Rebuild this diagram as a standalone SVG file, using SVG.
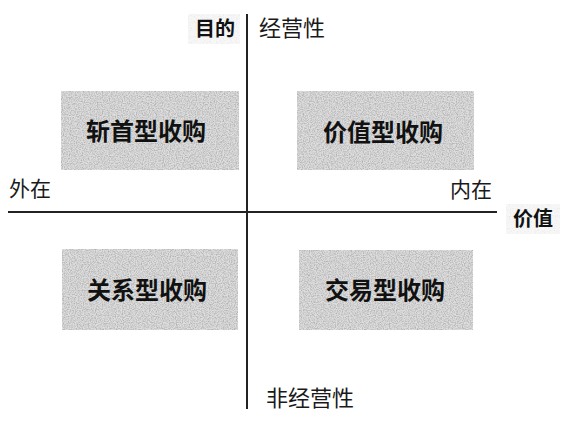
<svg xmlns="http://www.w3.org/2000/svg" width="574" height="425" viewBox="0 0 574 425">
  <style>
    .lbl { font-family: "Noto Sans CJK SC", "Noto Sans", sans-serif; fill: #1a1a1a; }
    .b { font-weight: bold; fill: #111111; }
    .box { fill: #dedede; }
    .faint { fill: #f7f7f7; }
    .axis { stroke: #222; stroke-width: 2; fill: none; }
  </style>
  <defs>
    <filter id="grain" x="0" y="0" width="100%" height="100%">
      <feTurbulence type="fractalNoise" baseFrequency="0.85" numOctaves="2" seed="7" result="n"/>
      <feColorMatrix in="n" type="matrix" values="0 0 0 0 0.45  0 0 0 0 0.45  0 0 0 0 0.45  0 0 0 -2.2 1.45" result="d"/>
      <feComposite in="d" in2="SourceGraphic" operator="in" result="dm"/>
      <feMerge><feMergeNode in="SourceGraphic"/><feMergeNode in="dm"/></feMerge>
    </filter>
    <filter id="grainLight" x="0" y="0" width="100%" height="100%">
      <feTurbulence type="fractalNoise" baseFrequency="0.85" numOctaves="2" seed="3" result="n"/>
      <feColorMatrix in="n" type="matrix" values="0 0 0 0 0.75  0 0 0 0 0.75  0 0 0 0 0.75  0 0 0 -2.0 1.0" result="d"/>
      <feComposite in="d" in2="SourceGraphic" operator="in" result="dm"/>
      <feMerge><feMergeNode in="SourceGraphic"/><feMergeNode in="dm"/></feMerge>
    </filter>
  </defs>
  <rect width="574" height="425" fill="#ffffff"/>

  <g id="connectors">
    <line class="axis" x1="247" y1="14" x2="247" y2="409"/>
    <line class="axis" x1="8" y1="212" x2="497" y2="212"/>
  </g>

  <g id="axis-top-left">
    <rect class="faint" x="188" y="14" width="52" height="30" filter="url(#grainLight)"/>
    <text class="lbl b" x="215" y="36" font-size="20" text-anchor="middle">目的</text>
  </g>
  <g id="axis-top">
    <text class="lbl" x="292" y="36" font-size="22" text-anchor="middle">经营性</text>
  </g>
  <g id="axis-left">
    <text class="lbl" x="30" y="196" font-size="21" text-anchor="middle">外在</text>
  </g>
  <g id="axis-right">
    <text class="lbl" x="471" y="197" font-size="21" text-anchor="middle">内在</text>
  </g>
  <g id="axis-right-bottom">
    <rect class="faint" x="506" y="204" width="54" height="30" filter="url(#grainLight)"/>
    <text class="lbl b" x="533" y="226" font-size="20" text-anchor="middle">价值</text>
  </g>
  <g id="axis-bottom">
    <text class="lbl" x="310" y="406" font-size="22" text-anchor="middle">非经营性</text>
  </g>

  <g id="q-top-left">
    <rect class="box" x="61" y="91" width="178" height="79" filter="url(#grain)"/>
    <text class="lbl b" x="146" y="140" font-size="24" text-anchor="middle">斩首型收购</text>
  </g>
  <g id="q-top-right">
    <rect class="box" x="297" y="91" width="177" height="79" filter="url(#grain)"/>
    <text class="lbl b" x="383" y="141" font-size="24" text-anchor="middle">价值型收购</text>
  </g>
  <g id="q-bottom-left">
    <rect class="box" x="62" y="249" width="176" height="81" filter="url(#grain)"/>
    <text class="lbl b" x="147" y="299" font-size="24" text-anchor="middle">关系型收购</text>
  </g>
  <g id="q-bottom-right">
    <rect class="box" x="299" y="250" width="174" height="80" filter="url(#grain)"/>
    <text class="lbl b" x="385" y="299" font-size="24" text-anchor="middle">交易型收购</text>
  </g>
</svg>
